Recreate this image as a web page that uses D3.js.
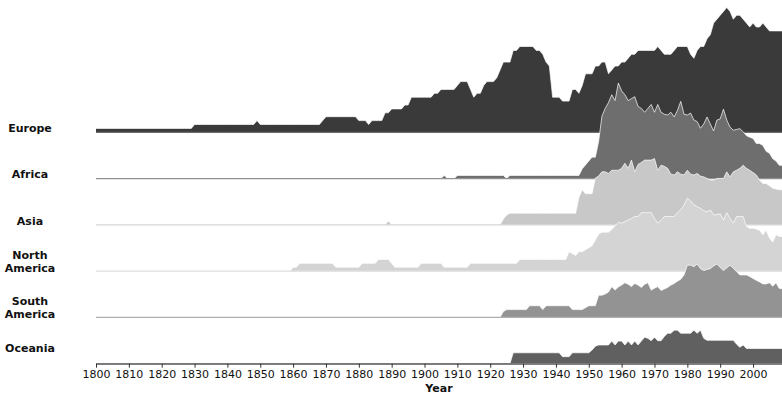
<!DOCTYPE html>
<html>
<head>
<meta charset="utf-8">
<script src="https://cdn.jsdelivr.net/npm/d3@7"></script>
<style>
  body { margin: 0; background: #fff; }
  svg { font-family: "DejaVu Sans", sans-serif; }
</style>
</head>
<body>
<div id="chart"></div>
<script>
// Ridgeline - yearly counts by region, 1800-2009

const regions = ["Europe", "Africa", "Asia", "North America", "South America", "Oceania"];
const regionColors = ["#3a3a3a", "#6e6e6e", "#c8c8c8", "#d4d4d4", "#939393", "#606060"];
const tickYears = [1800, 1810, 1820, 1830, 1840, 1850, 1860, 1870, 1880, 1890, 1900,
                   1910, 1920, 1930, 1940, 1950, 1960, 1970, 1980, 1990, 2000];
const firstYear = 1800;
const lastYear = 2009;

const europe = [
  1,1,1,1,1,1,1,1,1,1,
  1,1,1,1,1,1,1,1,1,1,
  1,1,1,1,1,1,1,1,1,1,
  2,2,2,2,2,2,2,2,2,2,
  2,2,2,2,2,2,2,2,2,3,
  2,2,2,2,2,2,2,2,2,2,
  2,2,2,2,2,2,2,2,2,3,
  4,4,4,4,4,4,4,4,4,4,
  3,3,3,2,3,3,3,3,5,5,
  6,6,6,6,7,7,9,9,9,9,
  9,9,9,10,10,11,11,11,11,11,
  12,13,13,13,11,9,10,10,12,13,
  13,13,14,16,18,18,18,21,21,22,
  22,22,22,22,21,21,20,18,17,9,
  9,9,8,8,8,11,11,10,12,15,
  15,15,17,17,18,18,15,16,17,17,
  18,18,19,20,20,21,21,21,21,21,
  21,22,21,20,20,20,21,22,22,22,
  22,20,19,21,22,22,24,25,28,29,
  30,31,32,31,29,30,30,29,28,27,
  28,27,27,28,27,26,26,26,26,26
];

const africa = [
  0,0,0,0,0,0,0,0,0,0,
  0,0,0,0,0,0,0,0,0,0,
  0,0,0,0,0,0,0,0,0,0,
  0,0,0,0,0,0,0,0,0,0,
  0,0,0,0,0,0,0,0,0,0,
  0,0,0,0,0,0,0,0,0,0,
  0,0,0,0,0,0,0,0,0,0,
  0,0,0,0,0,0,0,0,0,0,
  0,0,0,0,0,0,0,0,0,0,
  0,0,0,0,0,0,0,0,0,0,
  0,0,0,0,0,0,0.8,0,0,0,
  0.8,0.8,0.8,0.8,0.8,0.8,0.8,0.8,0.8,0.8,
  0.8,0.8,0.8,0.8,0.8,0,0.8,0.8,0.8,0.8,
  0.8,0.8,0.8,0.8,0.8,0.8,0.8,0.8,0.8,0.8,
  0.8,0.8,0.8,0.8,0.8,0.8,0.8,0.8,2.5,3.5,
  4.5,5.5,5.5,9.5,16,18,19.5,21.5,20,24.5,
  22.5,21.5,20,20.5,21,18.5,18,17,18,19,
  17,19,17,16.5,16.3,17,15.8,17.5,19.8,16.5,
  16.3,16.8,15,14.6,12.9,14,15.8,14,12.2,15,
  15.3,17.8,15,13.2,12.4,12.6,12.8,12,11,10.6,
  10.3,9,9,8.5,7,6.5,5.1,4.5,3.4,3.4
];

const asia = [
  0,0,0,0,0,0,0,0,0,0,
  0,0,0,0,0,0,0,0,0,0,
  0,0,0,0,0,0,0,0,0,0,
  0,0,0,0,0,0,0,0,0,0,
  0,0,0,0,0,0,0,0,0,0,
  0,0,0,0,0,0,0,0,0,0,
  0,0,0,0,0,0,0,0,0,0,
  0,0,0,0,0,0,0,0,0,0,
  0,0,0,0,0,0,0,0,0,1,
  0,0,0,0,0,0,0,0,0,0,
  0,0,0,0,0,0,0,0,0,0,
  0,0,0,0,0,0,0,0,0,0,
  0,0,0,0,1.5,2.5,3,3,3,3,
  3,3,3,3,3,3,3,3,3,3,
  3,3,3,3,3,3,3,7,9,8,
  8,8,12,12.5,13.6,13.6,13.2,14,14,14,
  14.5,15.8,14.5,16.6,13.6,15.5,16,16.6,16.6,16.6,
  17,14,15.3,15,14.5,13,12.8,13.6,13,12.8,
  14,13,12.8,13.2,12.5,12.3,11.9,11.5,11.5,11.9,
  11.9,11.9,13.6,12.3,13.6,14,14.5,15.3,14.5,14,
  13.4,12.8,11.5,10.6,10.6,10,9.4,9.2,9,9
];

const northAmerica = [
  0,0,0,0,0,0,0,0,0,0,
  0,0,0,0,0,0,0,0,0,0,
  0,0,0,0,0,0,0,0,0,0,
  0,0,0,0,0,0,0,0,0,0,
  0,0,0,0,0,0,0,0,0,0,
  0,0,0,0,0,0,0,0,0,0,
  1,1,2,2,2,2,2,2,2,2,
  2,2,2,1,1,1,1,1,1,1,
  1,2,2,2,2,2,3,3,3,3,
  2,1,1,1,1,1,1,1,1,2,
  2,2,2,2,2,2,1,1,1,1,
  1,1,1,1,2,2,2,2,2,2,
  2,2,2,2,2,2,2,2,2,3,
  3,3,3,3,3,3,3,3,3,3,
  3,3,3,3,5,4.5,4,5,5,5.5,
  6,6.5,8,9.5,10,10,10,10.7,11.6,12.5,
  12.3,12.7,13.1,13.5,14,14,15,15,15,15,
  13.5,12.3,13,14,14,14,14,15,15.7,17,
  18.7,18,17,16.5,16.1,15.5,15.2,15.7,14.4,14.5,
  14.7,13.1,15,13.5,12.3,14,14,14,11.5,11,
  11,10.8,10.5,9.3,10.5,8.5,7.5,9.3,8.9,8.9
];

const southAmerica = [
  0,0,0,0,0,0,0,0,0,0,
  0,0,0,0,0,0,0,0,0,0,
  0,0,0,0,0,0,0,0,0,0,
  0,0,0,0,0,0,0,0,0,0,
  0,0,0,0,0,0,0,0,0,0,
  0,0,0,0,0,0,0,0,0,0,
  0,0,0,0,0,0,0,0,0,0,
  0,0,0,0,0,0,0,0,0,0,
  0,0,0,0,0,0,0,0,0,0,
  0,0,0,0,0,0,0,0,0,0,
  0,0,0,0,0,0,0,0,0,0,
  0,0,0,0,0,0,0,0,0,0,
  0,0,0,0,1.5,2,2,2,2,2,
  2,2,3,3,3,3,2,3,3,3,
  3,3,3,3,3,2,2,2,2,2.5,
  3,3,3,5.7,5.7,6,6.5,7.9,7,7.8,
  8.3,8.9,8.5,7.9,8.7,8.3,7.7,8.5,8.9,7,
  7.5,7.9,6.9,7.3,7.7,8.3,8.7,9.3,9.8,10.9,
  13.4,13.4,13,13.7,12.5,12,12.3,12.5,13.2,13.7,
  12.8,12,12.7,13.4,12.6,11.7,10.9,10.9,10.9,10.5,
  10,9.5,9.1,8.6,8.6,8.9,8,8.9,7.4,7.4
];

const oceania = [
  0,0,0,0,0,0,0,0,0,0,
  0,0,0,0,0,0,0,0,0,0,
  0,0,0,0,0,0,0,0,0,0,
  0,0,0,0,0,0,0,0,0,0,
  0,0,0,0,0,0,0,0,0,0,
  0,0,0,0,0,0,0,0,0,0,
  0,0,0,0,0,0,0,0,0,0,
  0,0,0,0,0,0,0,0,0,0,
  0,0,0,0,0,0,0,0,0,0,
  0,0,0,0,0,0,0,0,0,0,
  0,0,0,0,0,0,0,0,0,0,
  0,0,0,0,0,0,0,0,0,0,
  0,0,0,0,0,0,0,2.8,2.8,2.8,
  2.8,2.8,2.8,2.8,2.8,2.8,2.8,2.8,2.8,2.8,
  2.8,2.8,1.8,1.8,1.8,2.8,2.8,2.8,2.8,2.8,
  2.8,3.5,4.5,4.8,4.8,4.8,4.8,5.8,4.8,5.8,
  5.8,4.8,5.8,4.8,5.8,4.8,5.8,6.8,6.5,5.9,
  6.8,5.9,5.9,7,7.8,7.8,8.6,8.6,7.8,7.8,
  7.8,7.8,8.6,7.8,8.6,6.5,6,6,6,6,
  6,6,6,6,6,5,4.2,4.8,3.9,3.9,
  3.9,3.9,3.9,3.9,3.9,3.9,3.9,3.9,3.9,3.9
];

const seriesValues = [europe, africa, asia, northAmerica, southAmerica, oceania];
const years = d3.range(firstYear, lastYear + 1);

const width = 782;
const height = 395;

const svg = d3.select("#chart")
    .append("svg")
    .attr("width", width)
    .attr("height", height);

const xScale = d3.scaleLinear()
    .domain([firstYear, lastYear])
    .range([96, 782.6]);

// baseline of each ridge
const rowScale = d3.scalePoint()
    .domain(regions)
    .range([132.3, 363.7]);

// shared height scale, relative to each baseline
const yScale = d3.scaleLinear()
    .domain([0, 32])
    .range([0, -124.8]);

const area = d3.area()
    .x((d, i) => xScale(years[i]))
    .y0(0)
    .y1(d => yScale(d));

const line = d3.line()
    .x((d, i) => xScale(years[i]))
    .y(d => yScale(d));

regions.forEach((name, i) => {
    const g = svg.append("g")
        .attr("transform", `translate(0, ${rowScale(name)})`);

    g.append("path")
        .datum(seriesValues[i])
        .attr("d", area)
        .attr("fill", regionColors[i]);

    g.append("path")
        .datum(seriesValues[i])
        .attr("d", line)
        .attr("fill", "none")
        .attr("stroke", "#fff")
        .attr("stroke-opacity", 0.7)
        .attr("stroke-width", 1);

    g.append("line")
        .attr("x1", xScale(firstYear))
        .attr("x2", xScale(lastYear))
        .attr("y1", 0)
        .attr("y2", 0)
        .attr("stroke", d3.interpolateRgb(regionColors[i], "#fff")(0.25))
        .attr("stroke-width", 1.2);
});

// row labels
const labelOffsets = [4, 4, 4, 9.5, 10, 16];
regions.forEach((name, i) => {
    const words = name.split(" ");
    const text = svg.append("text")
        .attr("x", 30)
        .attr("y", rowScale(name) - labelOffsets[i] - (words.length - 1) * 6.5)
        .attr("text-anchor", "middle")
        .attr("font-size", 11)
        .attr("font-weight", "bold")
        .attr("fill", "#111");
    words.forEach((w, j) => {
        text.append("tspan")
            .attr("x", 30)
            .attr("dy", j === 0 ? "0.35em" : "1.18em")
            .text(w);
    });
});

// x axis
const xAxis = d3.axisBottom(xScale)
    .tickValues(tickYears)
    .tickFormat(d3.format("d"))
    .tickSize(4)
    .tickPadding(3)
    .tickSizeOuter(0);

const axisG = svg.append("g")
    .attr("transform", `translate(0, ${rowScale("Oceania")})`)
    .call(xAxis);

axisG.select(".domain").attr("stroke", "#555");
axisG.selectAll(".tick line").attr("stroke", "#333");
axisG.selectAll(".tick text")
    .attr("font-size", 11)
    .attr("font-family", "DejaVu Sans, sans-serif")
    .attr("fill", "#111");

svg.append("text")
    .attr("x", (96 + 782) / 2)
    .attr("y", 388)
    .attr("dy", "0.35em")
    .attr("text-anchor", "middle")
    .attr("font-size", 11)
    .attr("font-weight", "bold")
    .attr("fill", "#111")
    .text("Year");
</script>
</body>
</html>
